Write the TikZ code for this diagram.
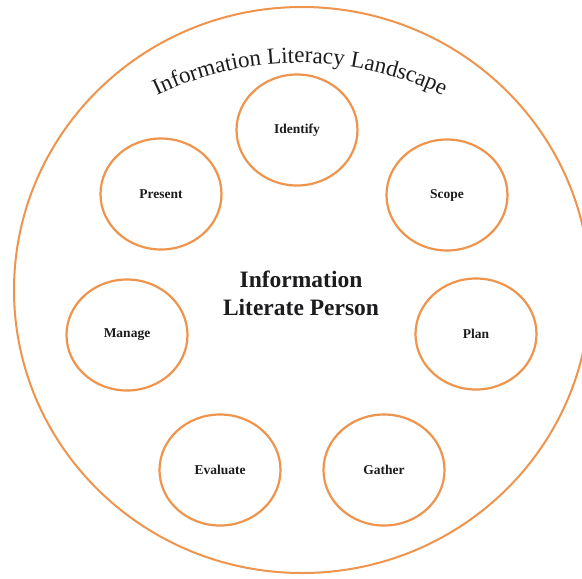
\documentclass[tikz,border=0pt]{standalone}
\usepackage{fontspec}
\setmainfont{Liberation Serif}
\usetikzlibrary{shapes.geometric, decorations.text}

\definecolor{ringorange}{RGB}{238,148,76}
\definecolor{inkgray}{RGB}{28,28,30}

\begin{document}
\begin{tikzpicture}[x=1pt, y=-1pt,
    stage/.style={ellipse, draw=ringorange, line width=2.2pt,
        minimum width=121pt, minimum height=111pt,
        font=\fontsize{13.5}{16}\selectfont\bfseries, text=inkgray}]

% Page frame
\useasboundingbox (0,0) rectangle (582,579);
\clip (0,0) rectangle (582,579);

% Outer ring
\draw[ringorange, line width=2pt] (302,290) ellipse [x radius=288, y radius=283];

% Title bent along the top
\path[decorate, decoration={text along path, text align=center, text color=inkgray,
    text={|\fontsize{23}{27}\selectfont|Information Literacy Landscape}}]
    ([shift={(200:330)}]300,393) arc[start angle=200, end angle=340, radius=330];

% Stages
\node[stage] (identify) at (297,130) {Identify};
\node[stage] (scope) at (447,195) {Scope};
\node[stage] (plan) at (476,334) {Plan};
\node[stage] (gather) at (384,470) {Gather};
\node[stage] (evaluate) at (220,470) {Evaluate};
\node[stage] (manage) at (127,335) {Manage};
\node[stage] (present) at (161,194) {Present};

% Centre
\node[font=\fontsize{23.5}{28}\selectfont\bfseries, align=center, text=inkgray]
    (person) at (301,293) {Information\\Literate Person};

\end{tikzpicture}
\end{document}
